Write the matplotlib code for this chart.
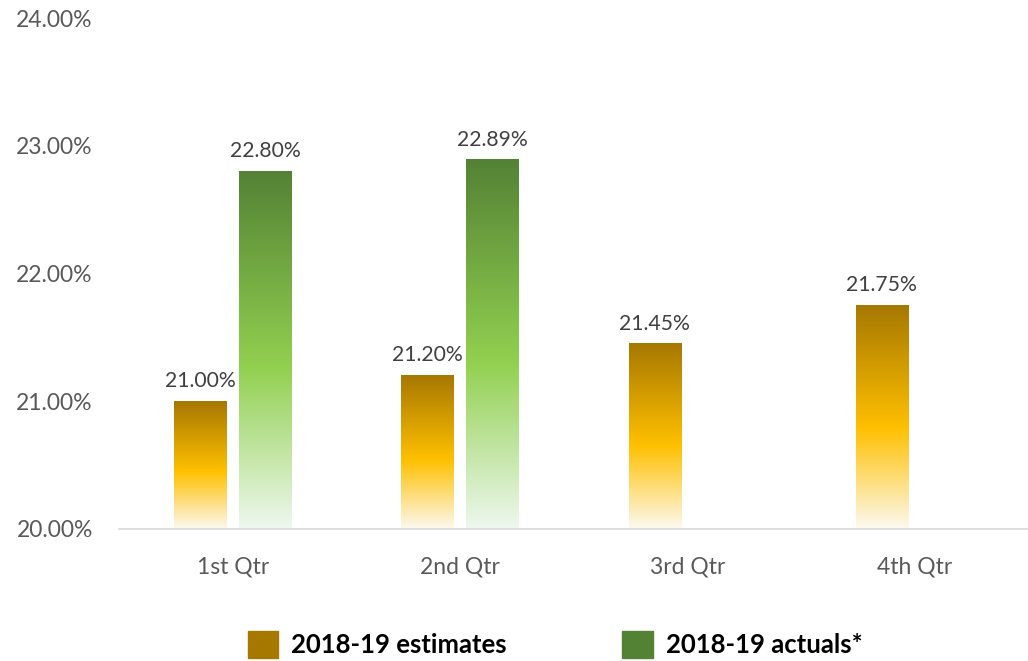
import matplotlib.pyplot as plt
import numpy as np
from matplotlib.colors import LinearSegmentedColormap
from matplotlib.patches import Patch

quarters = ['1st Qtr', '2nd Qtr', '3rd Qtr', '4th Qtr']
estimates = [21.00, 21.20, 21.45, 21.75]
actuals = [22.80, 22.89, np.nan, np.nan]
series_names = ['2018-19 estimates', '2018-19 actuals*']

plt.rcParams['font.family'] = ['Lato', 'DejaVu Sans']

# colour ramps, top of bar -> bottom of bar
orange_cm = LinearSegmentedColormap.from_list(
    'orange', [(0, '#A67800'), (0.55, '#FFC000'), (1, '#FCF9F0')])
green_cm = LinearSegmentedColormap.from_list(
    'green', [(0, '#548235'), (0.55, '#92D050'), (1, '#EEF8EF')])

fig = plt.figure(figsize=(10.28, 6.61), dpi=100)
ax = fig.add_axes([0.116, 0.1997, 0.884, 0.773])

ymin, ymax = 20.0, 24.0
width = 0.23
offset = 0.143
grad = np.linspace(0, 1, 256).reshape(-1, 1)


def gradient_bar(x, h, cmap):
    if np.isnan(h):
        return
    ax.imshow(grad, cmap=cmap, aspect='auto', interpolation='bicubic',
              extent=(x - width / 2, x + width / 2, ymin, h), zorder=2)
    ax.text(x, h + 0.08, '%.2f%%' % h, ha='center', va='bottom',
            fontsize=15.2, color='#404040')


for i in range(len(quarters)):
    gradient_bar(i - offset, estimates[i], orange_cm)
    gradient_bar(i + offset, actuals[i], green_cm)

ax.set_xlim(-0.5, 3.5)
ax.set_ylim(ymin, ymax)
ax.set_yticks(np.arange(20, 24.5, 1))
ax.set_yticklabels(['%.2f%%' % v for v in np.arange(20, 24.5, 1)])
ax.set_xticks(range(len(quarters)))
ax.set_xticklabels(quarters)
ax.tick_params(length=0, labelsize=16.5, colors='#595959')
ax.tick_params(axis='x', pad=20)
ax.tick_params(axis='y', pad=19)
for s in ['top', 'right', 'left']:
    ax.spines[s].set_visible(False)
ax.spines['bottom'].set_color('#D9D9D9')
ax.spines['bottom'].set_linewidth(1.2)

handles = [Patch(color='#A67800'), Patch(color='#548235')]
fig.legend(handles, series_names, loc='center', bbox_to_anchor=(0.54, 0.025),
           ncol=2, frameon=False, handlelength=1.2, handleheight=1.2,
           columnspacing=4.5, handletextpad=0.5,
           prop={'weight': 'bold', 'size': 18.5})

plt.savefig('out.png', dpi=100)
